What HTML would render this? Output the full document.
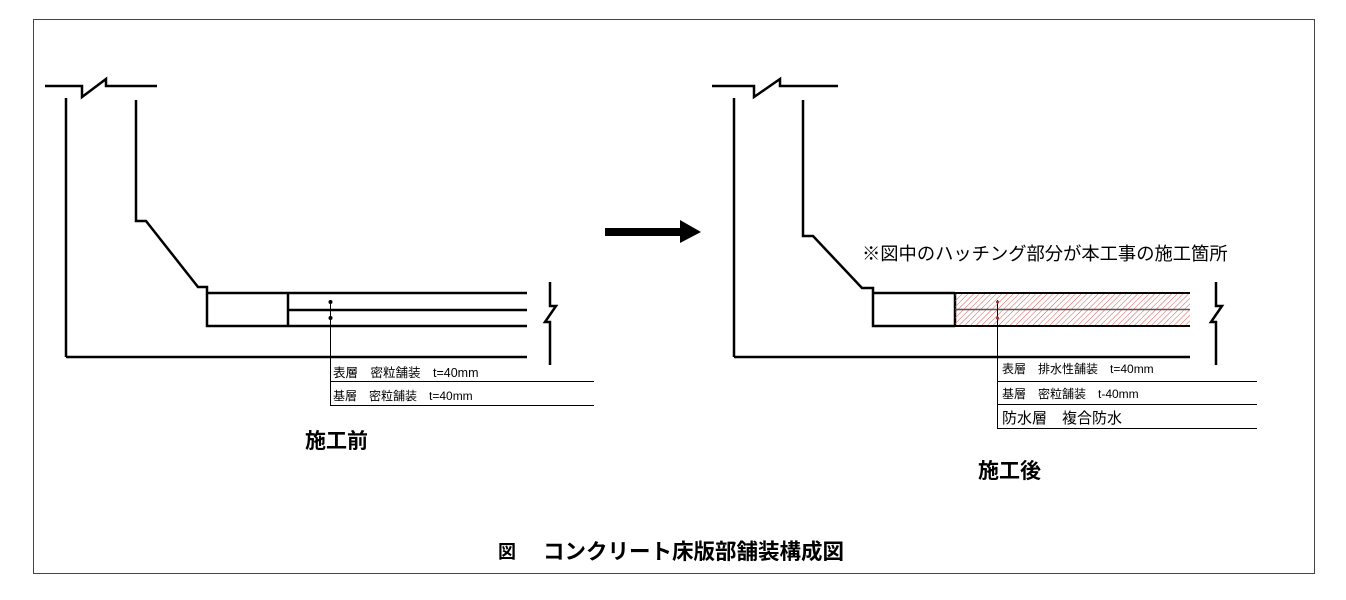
<!DOCTYPE html>
<html><head><meta charset="utf-8"><style>
body{margin:0;background:#fff;width:1346px;height:600px;overflow:hidden}
svg{display:block}
text{font-family:"Liberation Sans","Noto Sans CJK JP",sans-serif;fill:#000}
</style></head><body>
<svg width="1346" height="600" viewBox="0 0 1346 600">
<defs>
<pattern id="h" patternUnits="userSpaceOnUse" width="4" height="4" patternTransform="rotate(45)">
<line x1="0" y1="0" x2="0" y2="4" stroke="#d55" stroke-width="1"/>
</pattern>
</defs>
<rect x="33.5" y="19.5" width="1281" height="554" fill="none" stroke="#444" stroke-width="1"/>
<g fill="none" stroke="#000" stroke-width="2.5">
<polyline points="45,86 82,86 82,97 106,79 106,86 157,86"/>
<line x1="66" y1="98" x2="66" y2="357"/>
<line x1="66" y1="357" x2="527" y2="357"/>
<polyline points="136,100 136,221 146,221 198,287 207,287 207,326 527,326"/>
<line x1="207" y1="293" x2="527" y2="293"/>
<line x1="288" y1="293" x2="288" y2="326"/>
<line x1="288" y1="310" x2="527" y2="310"/>
<polyline points="550,282 550,306 556,306 545,322 550,322 550,365"/>
<polyline points="712,86 754,86 754,97 780,79 780,86 838,86"/>
<line x1="734" y1="98" x2="734" y2="357"/>
<line x1="734" y1="357" x2="1190" y2="357"/>
<polyline points="803,100 803,236 813,236 862,288 873,288 873,326 955,326"/>
<line x1="873" y1="293" x2="955" y2="293"/>
<line x1="955" y1="293" x2="955" y2="326"/>
<polyline points="1216,282 1216,306 1222,306 1211,322 1216,322 1216,365"/>
</g>
<rect x="955" y="293" width="235" height="33" fill="url(#h)"/>
<g stroke="#000" stroke-width="2">
<line x1="955" y1="293" x2="1190" y2="293"/>
<line x1="955" y1="326" x2="1190" y2="326"/>
</g>
<line x1="955" y1="309.5" x2="1190" y2="309.5" stroke="#555" stroke-width="1.5"/>
<g stroke="#000" stroke-width="1">
<line x1="330.5" y1="300" x2="330.5" y2="405"/>
<line x1="330" y1="381.5" x2="594" y2="381.5"/>
<line x1="330" y1="405.5" x2="594" y2="405.5"/>
<line x1="997.5" y1="300" x2="997.5" y2="428"/>
<line x1="997" y1="381.5" x2="1257" y2="381.5"/>
<line x1="997" y1="404.5" x2="1257" y2="404.5"/>
<line x1="997" y1="428.5" x2="1257" y2="428.5"/>
</g>
<circle cx="330.5" cy="302" r="2" fill="#000"/><circle cx="330.5" cy="318" r="2" fill="#000"/>
<circle cx="997.5" cy="302" r="1.5" fill="#933"/><circle cx="997.5" cy="318" r="1.5" fill="#933"/>
<text x="333" y="377" font-size="12.5">表層　密粒舗装　t=40mm</text>
<text x="333" y="400" font-size="12">基層　密粒舗装　t=40mm</text>
<text x="1002" y="373" font-size="12">表層　排水性舗装　t=40mm</text>
<text x="1002" y="398" font-size="12">基層　密粒舗装　t-40mm</text>
<text x="1002" y="423" font-size="15">防水層　複合防水</text>
<text x="862" y="260" font-size="18.3">※図中のハッチング部分が本工事の施工箇所</text>
<rect x="605" y="228" width="76" height="8" fill="#000"/>
<polygon points="680,220 701,232 680,243" fill="#000"/>
<text x="305" y="448" font-size="21" font-weight="bold">施工前</text>
<text x="978" y="478" font-size="21" font-weight="bold">施工後</text>
<text x="498" y="558" font-size="18" font-weight="bold">図</text>
<text x="543" y="559" font-size="21.5" font-weight="bold">コンクリート床版部舗装構成図</text>
</svg>
</body></html>
